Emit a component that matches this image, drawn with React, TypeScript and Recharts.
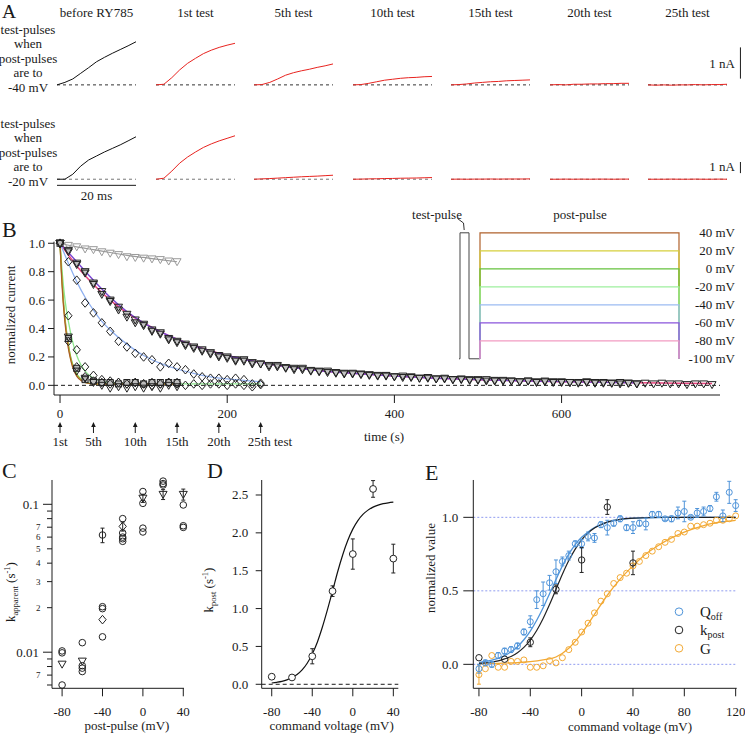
import React from 'react';
import { LineChart, ComposedChart, Line, Scatter, XAxis, YAxis, ReferenceLine, ErrorBar } from 'recharts';

const FONT = '"Liberation Serif","Times New Roman",Times,serif';
const INK = '#1a1a1a';

// ---------------- Panel A: current traces ----------------
const traceTimes = [0, 2, 4, 6, 8, 10, 12, 14, 16, 18, 20]; // ms
const testLabels = ['before RY785', '1st test', '5th test', '10th test', '15th test', '20th test', '25th test'];
const post40Traces = [
  [0, 0.08, 0.19, 0.37, 0.55, 0.74, 0.88, 1.01, 1.13, 1.25, 1.38],
  [0, 0.02, 0.23, 0.48, 0.69, 0.85, 1.0, 1.11, 1.2, 1.27, 1.33],
  [0, 0.01, 0.08, 0.19, 0.31, 0.39, 0.45, 0.5, 0.56, 0.61, 0.67],
  [0, 0.01, 0.05, 0.1, 0.15, 0.18, 0.21, 0.23, 0.24, 0.26, 0.27],
  [0, 0.01, 0.03, 0.06, 0.08, 0.1, 0.11, 0.13, 0.14, 0.15, 0.16],
  [0, 0.01, 0.0, 0.02, 0.02, 0.03, 0.03, 0.04, 0.04, 0.05, 0.05],
  [0, -0.01, 0.0, -0.01, 0.0, 0.0, 0.01, 0.0, 0.01, 0.01, 0.02],
];
const post20Traces = [
  [0, 0, 0.45, 1.18, 1.73, 2.09, 2.45, 2.77, 3.09, 3.45, 3.82],
  [0, 0.09, 0.73, 1.45, 2.0, 2.45, 2.86, 3.18, 3.45, 3.68, 3.91],
  [0, 0.03, 0.06, 0.1, 0.14, 0.18, 0.22, 0.25, 0.28, 0.32, 0.36],
  [0, 0.01, 0.03, 0.04, 0.06, 0.07, 0.09, 0.1, 0.11, 0.13, 0.15],
  [0, 0.01, 0, 0.01, 0.01, 0.02, 0.01, 0.02, 0.02, 0.02, 0.03],
  [0, 0, 0.01, 0, 0.01, 0, 0.01, 0.01, 0, 0.01, 0.01],
  [0, 0, 0, 0.01, 0, 0, 0.01, 0, 0, 0.01, 0],
];

// ---------------- Panel B: time course ----------------
const bGray = [1.0, 0.985, 0.975, 0.96, 0.955, 0.94, 0.93, 0.92, 0.905, 0.9, 0.895, 0.89, 0.885, 0.875, 0.87];
const bM80 = [
  1.0, 0.94, 0.86, 0.79, 0.71, 0.66, 0.59, 0.55, 0.48, 0.46, 0.43, 0.39, 0.37, 0.33, 0.3, 0.29, 0.26, 0.25, 0.22, 0.21,
  0.19, 0.18, 0.17, 0.16, 0.15, 0.13, 0.14, 0.12, 0.11, 0.12, 0.1, 0.095, 0.1, 0.085, 0.08, 0.085, 0.075, 0.07, 0.07, 0.065,
  0.06, 0.065, 0.055, 0.05, 0.055, 0.045, 0.05, 0.04, 0.045, 0.04, 0.035, 0.04, 0.03, 0.035, 0.03, 0.025, 0.03, 0.025, 0.03, 0.02,
  0.025, 0.02, 0.02, 0.025, 0.015, 0.02, 0.015, 0.02, 0.015, 0.01, 0.015, 0.01, 0.015, 0.01, 0.01, 0.005, 0.01, 0.01, 0.005,
];
const bM60 = [
  1.0, 0.95, 0.85, 0.8, 0.72, 0.64, 0.6, 0.53, 0.5, 0.44, 0.42, 0.38, 0.36, 0.32, 0.31, 0.28, 0.27, 0.24, 0.23, 0.2,
  0.2, 0.17, 0.18, 0.15, 0.15, 0.14, 0.13, 0.125, 0.12, 0.11, 0.105, 0.1, 0.09, 0.09, 0.085, 0.08, 0.08, 0.075, 0.065, 0.07,
  0.06, 0.055, 0.06, 0.05, 0.05, 0.045, 0.045, 0.04, 0.04, 0.035, 0.04, 0.03, 0.035, 0.03, 0.03, 0.025, 0.03, 0.02, 0.025, 0.025,
  0.02, 0.02, 0.015, 0.02, 0.02, 0.015, 0.015, 0.01, 0.015, 0.01,
];
const bM40 = [1.0, 0.87, 0.74, 0.58, 0.51, 0.44, 0.38, 0.31, 0.27, 0.225, 0.2, 0.18, 0.13, 0.155, 0.13, 0.11, 0.08, 0.06, 0.05, 0.05, 0.04, 0.05, 0.04, -0.01, 0.015];
const bM20 = [1.0, 0.49, 0.25, 0.13, 0.07, 0.04, 0.03, 0.02, 0.01, 0.02, 0.01, 0.0, 0.01, 0.02, 0.01, 0.0, 0.01, 0.0, 0.01, 0.01, 0.0, 0.01, 0.0, 0.01, 0.005];
const bP0 = [1.0, 0.31, 0.13, 0.06, 0.03, 0.02, 0.01, 0.02, 0.01, 0.02, 0.01, 0.02, 0.01, 0.02, 0.02];
const bP20 = [1.0, 0.34, 0.1, 0.05, 0.02, 0.0, -0.02, -0.01, -0.02, -0.01, -0.02, -0.01, -0.02, 0.0, -0.01];
const bP40 = [1.0, 0.33, 0.12, 0.04, 0.03, 0.02, 0.02, 0.01, 0.02, 0.02, 0.01, 0.02, 0.02, 0.02, 0.02];

const fitGrayT = [0, 20, 40, 60, 80, 100, 120, 140];
const fitGrayV = [1.0, 0.975, 0.955, 0.935, 0.915, 0.9, 0.885, 0.87];
const fitSlowT = [0, 20, 40, 60, 80, 100, 130, 160, 200, 250, 300, 350, 400, 450, 500, 550, 600, 650, 690, 740, 780];
const fitM80V = [1.0, 0.84, 0.71, 0.6, 0.51, 0.44, 0.35, 0.28, 0.21, 0.15, 0.11, 0.085, 0.065, 0.05, 0.04, 0.032, 0.026, 0.021, 0.018, 0.015, 0.013];
const fitM60V = [1.0, 0.87, 0.74, 0.62, 0.52, 0.44, 0.35, 0.28, 0.21, 0.15, 0.11, 0.085, 0.065, 0.05, 0.04, 0.032, 0.026, 0.021, 0.018];
const fitM40T = [0, 10, 20, 30, 40, 50, 60, 80, 100, 120, 140, 160, 180, 200, 220, 240];
const fitM40V = [1.0, 0.86, 0.73, 0.62, 0.53, 0.45, 0.39, 0.29, 0.21, 0.155, 0.115, 0.085, 0.06, 0.045, 0.035, 0.025];
const fitM20T = [0, 3, 6, 10, 15, 20, 25, 30, 40, 50, 60, 80, 100, 140, 180, 240];
const fitM20V = [1.0, 0.77, 0.6, 0.45, 0.31, 0.21, 0.145, 0.1, 0.05, 0.03, 0.02, 0.012, 0.01, 0.01, 0.01, 0.01];
const fitFastT = [0, 2, 4, 6, 8, 10, 12, 15, 20, 25, 30, 40, 60, 100, 140];
const fitP0V = [1.0, 0.78, 0.6, 0.47, 0.37, 0.29, 0.22, 0.15, 0.08, 0.045, 0.025, 0.012, 0.01, 0.01, 0.01];
const fitP20V = [1.0, 0.77, 0.59, 0.46, 0.36, 0.28, 0.21, 0.14, 0.07, 0.04, 0.02, 0.01, 0.008, 0.008, 0.008];
const fitP40V = [1.0, 0.75, 0.57, 0.44, 0.34, 0.26, 0.2, 0.13, 0.065, 0.035, 0.02, 0.01, 0.008, 0.008, 0.008];

const bYTicks = [0, 0.2, 0.4, 0.6, 0.8, 1.0];
const bMajorX = [0, 200, 400, 600];
const testTimes = [0, 40, 90, 140, 190, 240];
const testNames = ['1st', '5th', '10th', '15th', '20th', '25th test'];
const bXTicks = [0, 40, 90, 140, 190, 200, 240, 400, 600];

// protocol inset
const protoLevels = [40, 20, 0, -20, -40, -60, -80];
const protoColors = ['#b0622c', '#d6cf3c', '#66c23e', '#9ef09e', '#9cbcf2', '#8a55dc', '#f29cc2'];
const protoTicks = [40, 20, 0, -20, -40, -60, -80, -100];
const testPulseT = [0, 1, 1, 10, 10, 21];
const testPulseV = [-100, -100, 40, 40, -100, -100];
const postPulseT = [21, 21, 220, 220];

// ---------------- Panel C ----------------
const cCircX = [-80, -80, -80, -60, -60, -60, -60, -40, -40, -40, -40, -20, -20, -20, -20, -20, 0, 0, 0, 0, 20, 20, 20, 40, 40, 40];
const cCircY = [0.0102, 0.0099, 0.006, 0.0116, 0.0081, 0.0078, 0.0074, 0.062, 0.0203, 0.0197, 0.0127, 0.08, 0.064, 0.06, 0.0585, 0.0562, 0.122, 0.1015, 0.069, 0.065, 0.1435, 0.138, 0.135, 0.099, 0.0716, 0.0698];
const cCircE = [null, null, null, null, null, null, null, 0.007, null, null, null, null, null, null, null, null, null, null, null, null, null, null, null, null, null, null];
const cTriX = [-80, -60, 0, 20, 40];
const cTriY = [0.0083, 0.0087, 0.11, 0.1167, 0.1167];
const cTriE = [null, null, 0.007, 0.009, 0.01];
const cDiaX = [-40, -20];
const cDiaY = [0.0166, 0.0709];
const cDiaE = [null, 0.005];
const cYTicks = [0.006, 0.007, 0.008, 0.009, 0.01, 0.02, 0.03, 0.04, 0.05, 0.06, 0.07, 0.08, 0.09, 0.1];
const cYText = ['', '7', '', '', '0.01', '2', '3', '4', '5', '6', '7', '', '', '0.1'];
const cXTicks = [-80, -40, 0, 40];

// ---------------- Panel D ----------------
const dV = [-80, -60, -40, -20, 0, 20, 40];
const dK = [0.1, 0.09, 0.37, 1.23, 1.72, 2.58, 1.66];
const dErr = [null, null, 0.1, 0.07, 0.2, 0.11, 0.19];
const dFitV = [-80, -75, -70, -65, -60, -55, -50, -45, -40, -35, -30, -25, -20, -15, -10, -5, 0, 5, 10, 15, 20, 25, 30, 35, 40];
const dFitK = [0.017, 0.026, 0.038, 0.058, 0.089, 0.129, 0.19, 0.278, 0.4, 0.556, 0.756, 0.986, 1.23, 1.483, 1.708, 1.898, 2.049, 2.162, 2.243, 2.3, 2.34, 2.367, 2.385, 2.397, 2.405];
const dYTicks = [0, 0.5, 1.0, 1.5, 2.0, 2.5];

// ---------------- Panel E ----------------
const eV = [-80, -75, -70, -65, -60, -55, -50, -45, -40, -35, -30, -25, -20, -15, -10, -5, 0, 5, 10, 15, 20, 25, 30, 35, 40, 45, 50, 55, 60, 65, 70, 75, 80, 85, 90, 95, 100, 105, 110, 115, 120];
const eQoff = [-0.03, 0.01, 0.0, 0.06, 0.09, 0.1, 0.125, 0.22, 0.29, 0.44, 0.48, 0.555, 0.63, 0.7, 0.74, 0.82, 0.82, 0.87, 0.86, 0.95, 0.93, 0.96, 0.99, 0.93, 0.93, 0.96, 0.955, 1.02, 1.02, 0.99, 0.99, 1.03, 1.04, 1.0, 1.03, 1.04, 1.06, 1.14, 1.01, 1.17, 1.08];
const eQoffErr = [0.03, 0.02, 0.02, 0.02, 0.02, 0.02, 0.02, 0.02, 0.04, 0.06, 0.08, 0.05, 0.08, 0.03, 0.03, 0.02, 0.03, 0.03, 0.03, 0.02, 0.05, 0.02, 0.02, 0.02, 0.04, 0.02, 0.04, 0.02, 0.02, 0.01, 0.02, 0.04, 0.07, 0.01, 0.03, 0.03, 0.02, 0.03, 0.04, 0.075, 0.04];
const eG = [-0.07, -0.03, 0.06, -0.02, -0.02, 0.02, 0.02, 0.03, -0.02, -0.02, -0.01, 0.025, 0.01, 0.045, 0.1, 0.15, 0.22, 0.28, 0.35, 0.43, 0.48, 0.55, 0.59, 0.62, 0.67, 0.7, 0.74, 0.77, 0.8, 0.83, 0.85, 0.89, 0.9, 0.94, 0.94, 0.95, 0.96, 0.98, 0.98, 0.99, 1.01];
const eGErr = [0.065, null, null, null, null, null, null, null, null, null, null, null, null, null, null, null, null, null, null, null, null, null, null, null, null, null, null, null, null, null, null, null, null, null, null, null, null, null, null, null, null];
const eKV = [-80, -60, -40, -20, 0, 20, 40];
const eK = [0.045, 0.035, 0.15, 0.51, 0.71, 1.07, 0.69];
const eKErr = [null, null, 0.03, 0.03, 0.085, 0.05, 0.08];
const eFitQV = [-80, -75, -70, -65, -60, -55, -50, -45, -40, -35, -30, -25, -20, -15, -10, -5, 0, 5, 10, 15, 20, 30, 40, 60, 80, 100, 120];
const eFitQ = [0.013, 0.02, 0.028, 0.04, 0.059, 0.085, 0.12, 0.167, 0.226, 0.3, 0.385, 0.48, 0.577, 0.67, 0.75, 0.815, 0.864, 0.9, 0.93, 0.95, 0.967, 0.985, 0.993, 0.999, 1.0, 1.0, 1.0];
const eFitK = [0.007, 0.0105, 0.016, 0.024, 0.037, 0.053, 0.079, 0.115, 0.165, 0.23, 0.312, 0.407, 0.51, 0.613, 0.706, 0.784, 0.847, 0.893, 0.927, 0.95, 0.967, 0.986, 0.994, 0.999, 1.0, 1.0, 1.0];
const eFitGV = [-80, -70, -60, -50, -40, -30, -20, -10, 0, 10, 20, 30, 40, 50, 60, 70, 80, 90, 100, 110, 120];
const eFitG = [0.003, 0.005, 0.008, 0.012, 0.018, 0.03, 0.05, 0.11, 0.21, 0.34, 0.47, 0.58, 0.67, 0.75, 0.81, 0.86, 0.9, 0.93, 0.955, 0.97, 0.98];
const eXTicks = [-80, -40, 0, 40, 80, 120];
const eYTicks = [0, 0.5, 1.0];

const BLUE = '#4f94d9';
const ORANGE = '#f2a934';

// ---------- helpers ----------
const every10 = (vals: number[]) => vals.map((v, i) => ({ t: i * 10, v }));
const pairTV = (ts: number[], vs: number[]) => vs.map((v, i) => ({ t: ts[i], v }));
const pairXY = (xs: number[], ys: number[], es?: (number | null)[]) =>
  ys.map((y, i) => ({ x: xs[i], y, e: es ? es[i] : null }));

const circleShape = (stroke: string, r = 3.1, fill = 'none') => (p: any) =>
  p.cx == null ? <g /> : <circle cx={p.cx} cy={p.cy} r={r} stroke={stroke} strokeWidth={1} fill={fill} />;
const triShape = (stroke: string, fill = 'none', s = 4) => (p: any) =>
  p.cx == null ? <g /> : (
    <path d={`M${p.cx - s},${p.cy - s * 0.75}L${p.cx + s},${p.cy - s * 0.75}L${p.cx},${p.cy + s}Z`} stroke={stroke} strokeWidth={1} fill={fill} />
  );
const diamondShape = (stroke: string, fill = 'none', s = 4.3) => (p: any) =>
  p.cx == null ? <g /> : (
    <path d={`M${p.cx},${p.cy - s}L${p.cx + s * 0.85},${p.cy}L${p.cx},${p.cy + s}L${p.cx - s * 0.85},${p.cy}Z`} stroke={stroke} strokeWidth={1} fill={fill} />
  );
const squareShape = (stroke: string, fill = 'none', s = 3) => (p: any) =>
  p.cx == null ? <g /> : <rect x={p.cx - s} y={p.cy - s} width={2 * s} height={2 * s} stroke={stroke} strokeWidth={1} fill={fill} />;

const leftTick = (len: (v: number) => number, gap: (v: number) => number, label: (v: number) => string, size: (v: number) => number) => (p: any) => {
  const v = p.payload.value;
  const fs = size(v);
  const s = label(v);
  return (
    <g>
      <line x1={p.x - len(v)} x2={p.x} y1={p.y} y2={p.y} stroke={INK} strokeWidth={1} />
      {s !== '' && (
        <text x={p.x - gap(v)} y={p.y + fs * 0.34} textAnchor="end" fontSize={fs} fontFamily={FONT} fill={INK}>{s}</text>
      )}
    </g>
  );
};
const bottomTick = (len: number, base: number) => (p: any) => (
  <g>
    <line x1={p.x} x2={p.x} y1={p.y} y2={p.y + len} stroke={INK} strokeWidth={1} />
    <text x={p.x} y={p.y + base} textAnchor="middle" fontSize={13} fontFamily={FONT} fill={INK}>{String(p.payload.value)}</text>
  </g>
);

const bXTick = (p: any) => {
  const v = p.payload.value;
  const { x, y } = p;
  const ti = testTimes.indexOf(v);
  const last = ti === testTimes.length - 1;
  return (
    <g>
      {bMajorX.includes(v) && <line x1={x} x2={x} y1={y} y2={y + 8} stroke={INK} />}
      {bMajorX.includes(v) && (
        <text x={x} y={y + 22.5} textAnchor="middle" fontSize={13} fontFamily={FONT} fill={INK}>{String(v)}</text>
      )}
      {ti >= 0 && <line x1={x} x2={x} y1={y + 31} y2={y + 38} stroke={INK} strokeWidth={1} />}
      {ti >= 0 && <path d={`M${x},${y + 27}L${x - 2.3},${y + 32}L${x + 2.3},${y + 32}Z`} fill={INK} />}
      {ti >= 0 && (
        <text x={last ? x - 13 : x} y={y + 50.5} textAnchor={last ? 'start' : 'middle'} fontSize={13} fontFamily={FONT} fill={INK}>{testNames[ti]}</text>
      )}
    </g>
  );
};

const protoTick = (p: any) => (
  <text x={p.x + 54} y={p.y + 4.5} textAnchor="end" fontSize={13} fontFamily={FONT} fill={INK}>{`${p.payload.value} mV`}</text>
);

const colLeft = [57, 156, 254, 353, 451, 550, 648];

function Trace(props: any) {
  const { left, top, height, domain, values, color, baseColor, wide, extras } = props;
  const width = wide ? 97 : 79;
  const xMax = wide ? (20 * 97) / 79 : 20;
  const data = traceTimes.map((t, i) => ({ t, v: values[i] }));
  return (
    <div style={{ position: 'absolute', left, top }}>
      <LineChart width={width} height={height} data={data} margin={{ top: 0, right: 0, bottom: 0, left: 0 }}>
        <XAxis dataKey="t" type="number" domain={[0, xMax]} hide />
        <YAxis type="number" domain={domain} hide />
        <ReferenceLine segment={[{ x: 0, y: 0 }, { x: 20, y: 0 }]} stroke={baseColor} strokeDasharray="3 3" />
        <Line dataKey="v" type="linear" stroke={color} strokeWidth={1} dot={false} activeDot={false} isAnimationActive={false} />
        {extras}
      </LineChart>
    </div>
  );
}

function Txt(props: any) {
  const { x, y, children, anchor = 'middle', size = 13, rotate = false } = props;
  if (rotate) {
    return (
      <text transform={`translate(${x},${y}) rotate(-90)`} textAnchor={anchor} fontSize={size} fontFamily={FONT} fill={INK}>{children}</text>
    );
  }
  return (
    <text x={x} y={y} textAnchor={anchor} fontSize={size} fontFamily={FONT} fill={INK}>{children}</text>
  );
}

const rowLabel1 = ['test-pulses', 'when', 'post-pulses', 'are to', '-40 mV'];
const rowLabel2 = ['test-pulses', 'when', 'post-pulses', 'are to', '-20 mV'];
const legendE = [
  { name: 'Q', sub: 'off', color: BLUE },
  { name: 'k', sub: 'post', color: '#222' },
  { name: 'G', sub: '', color: ORANGE },
];

export default function App() {
  const noDot = { dot: false, activeDot: false, isAnimationActive: false } as any;
  return (
    <div style={{ position: 'absolute', left: 0, top: 0, width: 745, height: 737, background: '#fff', overflow: 'hidden', fontFamily: FONT }}>
      {/* ---------- A ---------- */}
      {colLeft.map((L, i) => (
        <Trace
          key={'r1' + i}
          left={L}
          top={38}
          height={50}
          domain={[-0.1, 1.5]}
          values={post40Traces[i]}
          color={i === 0 ? '#111' : '#e8231f'}
          baseColor="#333"
          wide={i === 6}
          extras={i === 6 ? <ReferenceLine segment={[{ x: 23.4, y: 0.2 }, { x: 23.4, y: 1.2 }]} stroke={INK} strokeWidth={1} /> : null}
        />
      ))}
      {colLeft.map((L, i) => (
        <Trace
          key={'r2' + i}
          left={L}
          top={131.8}
          height={55}
          domain={[-0.7, 4.25]}
          values={post20Traces[i]}
          color={i === 0 ? '#111' : '#e8231f'}
          baseColor="#777"
          wide={i === 6}
          extras={
            i === 6 ? (
              <ReferenceLine segment={[{ x: 23.4, y: 0.55 }, { x: 23.4, y: 1.55 }]} stroke={INK} strokeWidth={1} />
            ) : i === 0 ? (
              <ReferenceLine segment={[{ x: 0, y: -0.55 }, { x: 20, y: -0.55 }]} stroke={INK} strokeWidth={1} />
            ) : null
          }
        />
      ))}

      {/* ---------- B ---------- */}
      <div style={{ position: 'absolute', left: 0, top: 230 }}>
        <ComposedChart width={745} height={221} margin={{ top: 11.7, right: 25, bottom: 0, left: 0 }}>
          <XAxis type="number" dataKey="t" domain={[-7.2, 789.5]} ticks={bXTicks} interval={0} tick={bXTick} tickSize={0} tickMargin={0} height={56} axisLine={{ stroke: INK }} />
          <YAxis type="number" dataKey="v" domain={[-0.068, 1.011]} ticks={bYTicks} interval={0}
            tick={leftTick(() => 6, () => 9, (v) => v.toFixed(1), () => 13)} tickSize={0} tickMargin={0} width={54} axisLine={{ stroke: INK }} />
          <ReferenceLine y={0} stroke={INK} strokeDasharray="4 3" />
          <Scatter data={every10(bGray)} shape={triShape('#9a9a9a')} isAnimationActive={false} />
          <Scatter data={every10(bM60)} shape={triShape('#222', '#c4c4c4')} isAnimationActive={false} />
          <Scatter data={every10(bM80)} shape={triShape('#222')} isAnimationActive={false} />
          <Scatter data={every10(bM40)} shape={diamondShape('#222')} isAnimationActive={false} />
          <Scatter data={every10(bM20)} shape={diamondShape('#222')} isAnimationActive={false} />
          <Scatter data={every10(bP40)} shape={squareShape('#222', '#bdbdbd')} isAnimationActive={false} />
          <Scatter data={every10(bP20)} shape={triShape('#222')} isAnimationActive={false} />
          <Scatter data={every10(bP0)} shape={diamondShape('#222')} isAnimationActive={false} />
          <Line data={pairTV(fitGrayT, fitGrayV)} dataKey="v" type="monotone" stroke="#9a9a9a" strokeWidth={1.2} {...noDot} />
          <Line data={pairTV(fitSlowT, fitM80V)} dataKey="v" type="monotone" stroke="#e8457e" strokeWidth={1.5} {...noDot} />
          <Line data={pairTV(fitSlowT.slice(0, fitM60V.length), fitM60V)} dataKey="v" type="monotone" stroke="#7a45d2" strokeWidth={1.4} {...noDot} />
          <Line data={pairTV(fitM40T, fitM40V)} dataKey="v" type="monotone" stroke="#8fb0f0" strokeWidth={1.3} {...noDot} />
          <Line data={pairTV(fitM20T, fitM20V)} dataKey="v" type="monotone" stroke="#8ee88e" strokeWidth={1.3} {...noDot} />
          <Line data={pairTV(fitFastT, fitP0V)} dataKey="v" type="monotone" stroke="#5fbf3a" strokeWidth={1.3} {...noDot} />
          <Line data={pairTV(fitFastT, fitP20V)} dataKey="v" type="monotone" stroke="#d2cc38" strokeWidth={1.3} {...noDot} />
          <Line data={pairTV(fitFastT, fitP40V)} dataKey="v" type="monotone" stroke="#a95e28" strokeWidth={1.3} {...noDot} />
        </ComposedChart>
      </div>

      {/* protocol inset */}
      <div style={{ position: 'absolute', left: 459, top: 221.2 }}>
        <LineChart width={284} height={149.6} margin={{ top: 10, right: 2, bottom: 10, left: 0 }}>
          <XAxis type="number" dataKey="t" domain={[0, 222]} hide />
          <YAxis type="number" dataKey="v" orientation="right" domain={[-102, 42]} ticks={protoTicks} interval={0}
            tick={protoTick} tickSize={0} tickMargin={0} width={60} axisLine={false} tickLine={false} />
          <Line data={pairTV(testPulseT, testPulseV)} dataKey="v" type="linear" stroke="#444" strokeWidth={1} {...noDot} />
          {protoLevels.map((lv, i) => (
            <Line key={lv} data={pairTV(postPulseT, [-100, lv, lv, -100])} dataKey="v" type="linear" stroke={protoColors[i]} strokeWidth={1.2} {...noDot} />
          ))}
        </LineChart>
      </div>

      {/* ---------- C ---------- */}
      <div style={{ position: 'absolute', left: 0, top: 470 }}>
        <ComposedChart width={200} height={248.3} margin={{ top: 10, right: 16, bottom: 0, left: 0 }}>
          <XAxis type="number" dataKey="x" domain={[-90, 40.7]} ticks={cXTicks} interval={0} tick={bottomTick(8, 27.5)} tickSize={0} tickMargin={0} height={30} axisLine={{ stroke: INK }} />
          <YAxis type="number" dataKey="y" scale="log" domain={[0.0057, 0.146]} ticks={cYTicks} interval={0}
            tick={leftTick(
              (v) => (v === 0.01 || v === 0.1 ? 9 : 5),
              (v) => (v === 0.01 || v === 0.1 ? 13 : 11.5),
              (v) => cYText[cYTicks.indexOf(v)],
              (v) => (v === 0.01 || v === 0.1 ? 13 : 9)
            )}
            tickSize={0} tickMargin={0} width={52} axisLine={{ stroke: INK }} />
          <Scatter data={pairXY(cCircX, cCircY, cCircE)} shape={circleShape('#222', 3.3)} isAnimationActive={false}>
            <ErrorBar dataKey="e" direction="y" width={2} stroke="#222" strokeWidth={1} />
          </Scatter>
          <Scatter data={pairXY(cTriX, cTriY, cTriE)} shape={triShape('#222')} isAnimationActive={false}>
            <ErrorBar dataKey="e" direction="y" width={2} stroke="#222" strokeWidth={1} />
          </Scatter>
          <Scatter data={pairXY(cDiaX, cDiaY, cDiaE)} shape={diamondShape('#222')} isAnimationActive={false}>
            <ErrorBar dataKey="e" direction="y" width={2} stroke="#222" strokeWidth={1} />
          </Scatter>
        </ComposedChart>
      </div>

      {/* ---------- D ---------- */}
      <div style={{ position: 'absolute', left: 220, top: 470 }}>
        <ComposedChart width={188.3} height={248.3} margin={{ top: 10, right: 10, bottom: 0, left: 0 }}>
          <XAxis type="number" dataKey="x" domain={[-89.9, 44.9]} ticks={cXTicks} interval={0} tick={bottomTick(8, 27.5)} tickSize={0} tickMargin={0} height={30} axisLine={{ stroke: INK }} />
          <YAxis type="number" dataKey="y" domain={[-0.053, 2.698]} ticks={dYTicks} interval={0}
            tick={leftTick(() => 6, () => 13.4, (v) => v.toFixed(1), () => 13)} tickSize={0} tickMargin={0} width={41.7} axisLine={{ stroke: INK }} />
          <ReferenceLine y={0} stroke={INK} strokeDasharray="4 3" />
          <Line data={dFitV.map((x, i) => ({ x, y: dFitK[i] }))} dataKey="y" type="monotone" stroke="#111" strokeWidth={1.2} {...noDot} />
          <Scatter data={pairXY(dV, dK, dErr)} shape={circleShape('#222', 3.4, '#fff')} isAnimationActive={false}>
            <ErrorBar dataKey="e" direction="y" width={2} stroke="#222" strokeWidth={1} />
          </Scatter>
        </ComposedChart>
      </div>

      {/* ---------- E ---------- */}
      <div style={{ position: 'absolute', left: 420, top: 470 }}>
        <ComposedChart width={325} height={248.3} margin={{ top: 10, right: 8.3, bottom: 0, left: 0 }}>
          <XAxis type="number" dataKey="x" domain={[-84.4, 120.8]} ticks={eXTicks} interval={0} tick={bottomTick(8, 27.5)} tickSize={0} tickMargin={0} height={30} axisLine={{ stroke: INK }} />
          <YAxis type="number" dataKey="y" domain={[-0.163, 1.254]} ticks={eYTicks} interval={0}
            tick={leftTick(() => 10, () => 15, (v) => v.toFixed(1), () => 13)} tickSize={0} tickMargin={0} width={53.3} axisLine={{ stroke: INK }} />
          {eYTicks.map((t) => (
            <ReferenceLine key={t} y={t} stroke="#8f9cf0" strokeDasharray="2 2" />
          ))}
          <Line data={eFitGV.map((x, i) => ({ x, y: eFitG[i] }))} dataKey="y" type="monotone" stroke={ORANGE} strokeWidth={1.3} {...noDot} />
          <Line data={eFitQV.map((x, i) => ({ x, y: eFitQ[i] }))} dataKey="y" type="monotone" stroke={BLUE} strokeWidth={1.3} {...noDot} />
          <Line data={eFitQV.map((x, i) => ({ x, y: eFitK[i] }))} dataKey="y" type="monotone" stroke="#222" strokeWidth={1.2} {...noDot} />
          <Scatter data={pairXY(eV, eG, eGErr)} shape={circleShape(ORANGE, 3)} isAnimationActive={false}>
            <ErrorBar dataKey="e" direction="y" width={2} stroke={ORANGE} strokeWidth={1} />
          </Scatter>
          <Scatter data={pairXY(eV, eQoff, eQoffErr)} shape={circleShape(BLUE, 3)} isAnimationActive={false}>
            <ErrorBar dataKey="e" direction="y" width={2} stroke={BLUE} strokeWidth={1} />
          </Scatter>
          <Scatter data={pairXY(eKV, eK, eKErr)} shape={circleShape('#222', 3.2)} isAnimationActive={false}>
            <ErrorBar dataKey="e" direction="y" width={2} stroke="#222" strokeWidth={1} />
          </Scatter>
        </ComposedChart>
      </div>

      {/* ---------- text overlay ---------- */}
      <svg width={745} height={737} style={{ position: 'absolute', left: 0, top: 0, pointerEvents: 'none' }}>
        <Txt x={2} y={17.5} anchor="start" size={19.5}>A</Txt>
        <Txt x={2} y={237} anchor="start" size={22}>B</Txt>
        <Txt x={2} y={478} anchor="start" size={22}>C</Txt>
        <Txt x={207} y={478} anchor="start" size={22}>D</Txt>
        <Txt x={425} y={480} anchor="start" size={22}>E</Txt>

        {testLabels.map((s, i) => (
          <Txt key={s} x={colLeft[i] + 39.5} y={16.5}>{s}</Txt>
        ))}
        {rowLabel1.map((s, i) => (
          <Txt key={'l1' + i} x={28} y={33.8 + i * 14.5}>{s}</Txt>
        ))}
        {rowLabel2.map((s, i) => (
          <Txt key={'l2' + i} x={28} y={127.5 + i * 14.5}>{s}</Txt>
        ))}
        <Txt x={735} y={67.5} anchor="end">1 nA</Txt>
        <Txt x={735} y={171} anchor="end">1 nA</Txt>
        <Txt x={96.5} y={199.5}>20 ms</Txt>

        <Txt x={437} y={219}>test-pulse</Txt>
        <Txt x={580} y={219}>post-pulse</Txt>
        <polyline points="457.5,218.5 463.5,223 464.2,230" fill="none" stroke={INK} strokeWidth={0.9} />
        <Txt x={384} y={441}>time (s)</Txt>
        <Txt x={15} y={315} rotate>normalized current</Txt>

        <text transform="translate(15,592) rotate(-90)" textAnchor="middle" fontSize={13} fontFamily={FONT} fill={INK}>
          k<tspan fontSize={8.5} dy={3}>apparent</tspan>
          <tspan dy={-3}> (s</tspan>
          <tspan fontSize={8.5} dy={-5}>-1</tspan>
          <tspan dy={5}>)</tspan>
        </text>
        <Txt x={127} y={730}>post-pulse (mV)</Txt>

        <text transform="translate(213,590) rotate(-90)" textAnchor="middle" fontSize={13} fontFamily={FONT} fill={INK}>
          k<tspan fontSize={8.5} dy={3}>post</tspan>
          <tspan dy={-3}> (s</tspan>
          <tspan fontSize={8.5} dy={-5}>-1</tspan>
          <tspan dy={5}>)</tspan>
        </text>
        <Txt x={331.7} y={730}>command voltage (mV)</Txt>

        <Txt x={435} y={568} rotate>normalized value</Txt>
        <Txt x={630} y={731}>command voltage (mV)</Txt>

        {legendE.map((it, i) => (
          <g key={it.name}>
            <circle cx={679} cy={611.7 + i * 18.3} r={3.8} stroke={it.color} strokeWidth={1} fill="none" />
            <text x={700} y={617 + i * 18.3} fontSize={15} fontFamily={FONT} fill={INK}>
              {it.name}
              {it.sub && <tspan fontSize={10} dy={3}>{it.sub}</tspan>}
            </text>
          </g>
        ))}
      </svg>
    </div>
  );
}
